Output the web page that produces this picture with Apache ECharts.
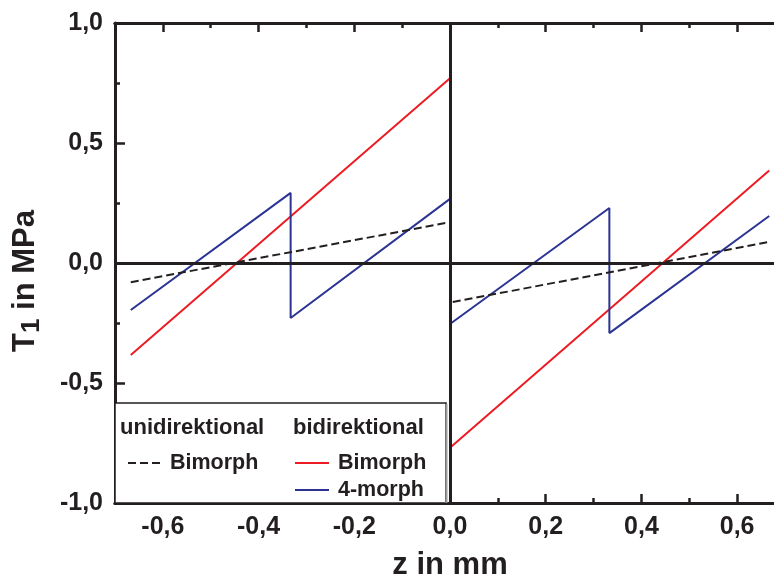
<!DOCTYPE html>
<html>
<head>
<meta charset="utf-8">
<script src="https://cdn.jsdelivr.net/npm/echarts@6/dist/echarts.min.js"></script>
<style>
  html, body { margin: 0; padding: 0; background: #fff; }
  #chart { width: 774px; height: 577px; }
</style>
</head>
<body>
<div id="chart"></div>
<script>
// Stress T1 across the thickness z of the layered bender
const zUni = [-0.667, 0, 0, 0.667];
const tUni = [-0.08, 0.17, -0.165, 0.088];

const zBiBimorph = [-0.667, 0, 0, 0.667];
const tBiBimorph = [-0.383, 0.77, -0.77, 0.385];

const zBi4morph = [-0.667, -0.333, -0.333, 0, 0, 0.333, 0.333, 0.667];
const tBi4morph = [-0.196, 0.292, -0.229, 0.267, -0.254, 0.229, -0.292, 0.196];

const xMajorTicks = [-0.6, -0.4, -0.2, 0, 0.2, 0.4, 0.6];
const xMinorTicks = [-0.7, -0.5, -0.3, -0.1, 0.1, 0.3, 0.5, 0.7];

const legendNames = {
  uniBimorph: 'Bimorph',
  biBimorph: 'Bimorph',
  bi4morph: '4-morph'
};

const INK = '#231f20';
const FONT = '"Liberation Sans", Arial, sans-serif';

function pairs(xs, ys) {
  return xs.map((x, i) => [x, ys[i]]);
}
function comma(v) {
  return v.toFixed(1).replace('.', ',');
}

const X_MIN = -0.7, X_MAX = 0.7;
// the frame runs a little past the right edge of the page
const GRID = { left: 115, top: 23, width: 670, height: 480, containLabel: false, outerBoundsMode: 'none' };

function xAxisBase(gridIndex, position, ticks, len, withLabels) {
  return {
    type: 'value',
    gridIndex: gridIndex,
    position: position,
    min: X_MIN,
    max: X_MAX,
    splitLine: { show: false },
    axisLine: { show: true, onZero: false, lineStyle: { color: INK, width: 3 } },
    axisTick: { show: true, inside: true, length: len, customValues: ticks,
                lineStyle: { color: INK, width: 2.5 } },
    axisLabel: withLabels ? {
      show: true, customValues: ticks, margin: 12,
      color: INK, fontFamily: FONT, fontWeight: 'bold', fontSize: 25,
      formatter: comma
    } : { show: false }
  };
}

const chart = echarts.init(document.getElementById('chart'), null, { renderer: 'canvas' });

const bottomMain = xAxisBase(0, 'bottom', xMajorTicks, 9, true);
bottomMain.name = 'z in mm';
bottomMain.nameLocation = 'middle';
bottomMain.nameGap = 47;
bottomMain.nameTextStyle = { color: INK, fontFamily: FONT, fontWeight: 'bold', fontSize: 31 };

const legendText = { color: INK, fontFamily: FONT, fontWeight: 'bold', fontSize: 21.5 };

const option = {
  animation: false,
  backgroundColor: '#ffffff',
  grid: [
    Object.assign({}, GRID),
    Object.assign({}, GRID)
  ],
  xAxis: [
    bottomMain,
    xAxisBase(0, 'top', xMajorTicks, 9, false),
    xAxisBase(1, 'bottom', xMinorTicks, 5, false),
    xAxisBase(1, 'top', xMinorTicks, 5, false)
  ],
  yAxis: [
    {
      type: 'value', gridIndex: 0,
      min: -1, max: 1, interval: 0.5,
      splitLine: { show: false },
      axisLine: { show: true, onZero: false, lineStyle: { color: INK, width: 3 } },
      axisTick: { show: true, inside: true, length: 10, lineStyle: { color: INK, width: 2.5 } },
      minorTick: { show: true, splitNumber: 2, length: 5, lineStyle: { color: INK, width: 2.5 } },
      axisLabel: { margin: 12, color: INK, fontFamily: FONT, fontWeight: 'bold', fontSize: 25,
                   formatter: comma }
    },
    {
      type: 'value', gridIndex: 1, min: -1, max: 1, show: false
    }
  ],
  legend: [
    {
      data: ['uniBimorph'],
      left: 127, top: 452, padding: 0,
      itemWidth: 34, itemHeight: 14, itemGap: 5,
      selectedMode: false, z: 10,
      itemStyle: { opacity: 0 },
      formatter: n => legendNames[n],
      textStyle: Object.assign({ padding: [0, 0, 0, 3] }, legendText)
    },
    {
      data: ['biBimorph', 'bi4morph'],
      orient: 'vertical',
      left: 294, top: 452, padding: 0,
      itemWidth: 34, itemHeight: 14, itemGap: 5,
      selectedMode: false, z: 10,
      itemStyle: { opacity: 0 },
      formatter: n => legendNames[n],
      textStyle: Object.assign({ padding: [0, 0, 0, 4] }, legendText)
    }
  ],
  graphic: [
    {
      type: 'rect', z: 5,
      shape: { x: 115, y: 403, width: 331, height: 100 },
      style: { fill: '#ffffff', stroke: INK, lineWidth: 1.5 }
    },
    {
      type: 'line', z: 6,
      shape: { x1: 446.5, y1: 404, x2: 446.5, y2: 503 },
      style: { stroke: '#9a9a9a', lineWidth: 2 }
    },
    {
      type: 'text', z: 7, x: 120, y: 428,
      style: { text: 'unidirektional', fill: INK, font: 'bold 22px ' + FONT, verticalAlign: 'middle' }
    },
    {
      type: 'text', z: 7, x: 293, y: 428,
      style: { text: 'bidirektional', fill: INK, font: 'bold 22px ' + FONT, verticalAlign: 'middle' }
    },
    {
      type: 'text', z: 7, x: 25, y: 281, rotation: Math.PI / 2,
      style: {
        text: '{t|T}{s|1}{t| in MPa}',
        align: 'center', verticalAlign: 'middle',
        rich: {
          t: { fontFamily: FONT, fontWeight: 'bold', fontSize: 31, fill: INK, lineHeight: 40, verticalAlign: 'middle' },
          s: { fontFamily: FONT, fontWeight: 'bold', fontSize: 26, fill: INK, lineHeight: 40, verticalAlign: 'bottom' }
        }
      }
    }
  ],
  series: [
    {
      // zero reference lines
      type: 'line', name: 'zero', data: [], silent: true, z: 1,
      xAxisIndex: 0, yAxisIndex: 0,
      markLine: {
        silent: true, symbol: 'none', animation: false,
        label: { show: false },
        lineStyle: { color: INK, width: 3, type: 'solid' },
        data: [{ yAxis: 0 }, { xAxis: 0 }]
      }
    },
    {
      name: 'biBimorph', type: 'line', symbol: 'none', z: 3,
      xAxisIndex: 0, yAxisIndex: 0,
      data: pairs(zBiBimorph, tBiBimorph),
      lineStyle: { color: '#ec1c24', width: 2 }, itemStyle: { color: '#ec1c24' }
    },
    {
      name: 'bi4morph', type: 'line', symbol: 'none', z: 3,
      xAxisIndex: 0, yAxisIndex: 0,
      data: pairs(zBi4morph, tBi4morph),
      lineStyle: { color: '#2b3494', width: 2 }, itemStyle: { color: '#2b3494' }
    },
    {
      name: 'uniBimorph', type: 'line', symbol: 'none', z: 3,
      xAxisIndex: 0, yAxisIndex: 0,
      data: pairs(zUni, tUni),
      lineStyle: { color: INK, width: 2, type: [8, 4] }, itemStyle: { color: INK }
    }
  ]
};

chart.setOption(option);
</script>
</body>
</html>
